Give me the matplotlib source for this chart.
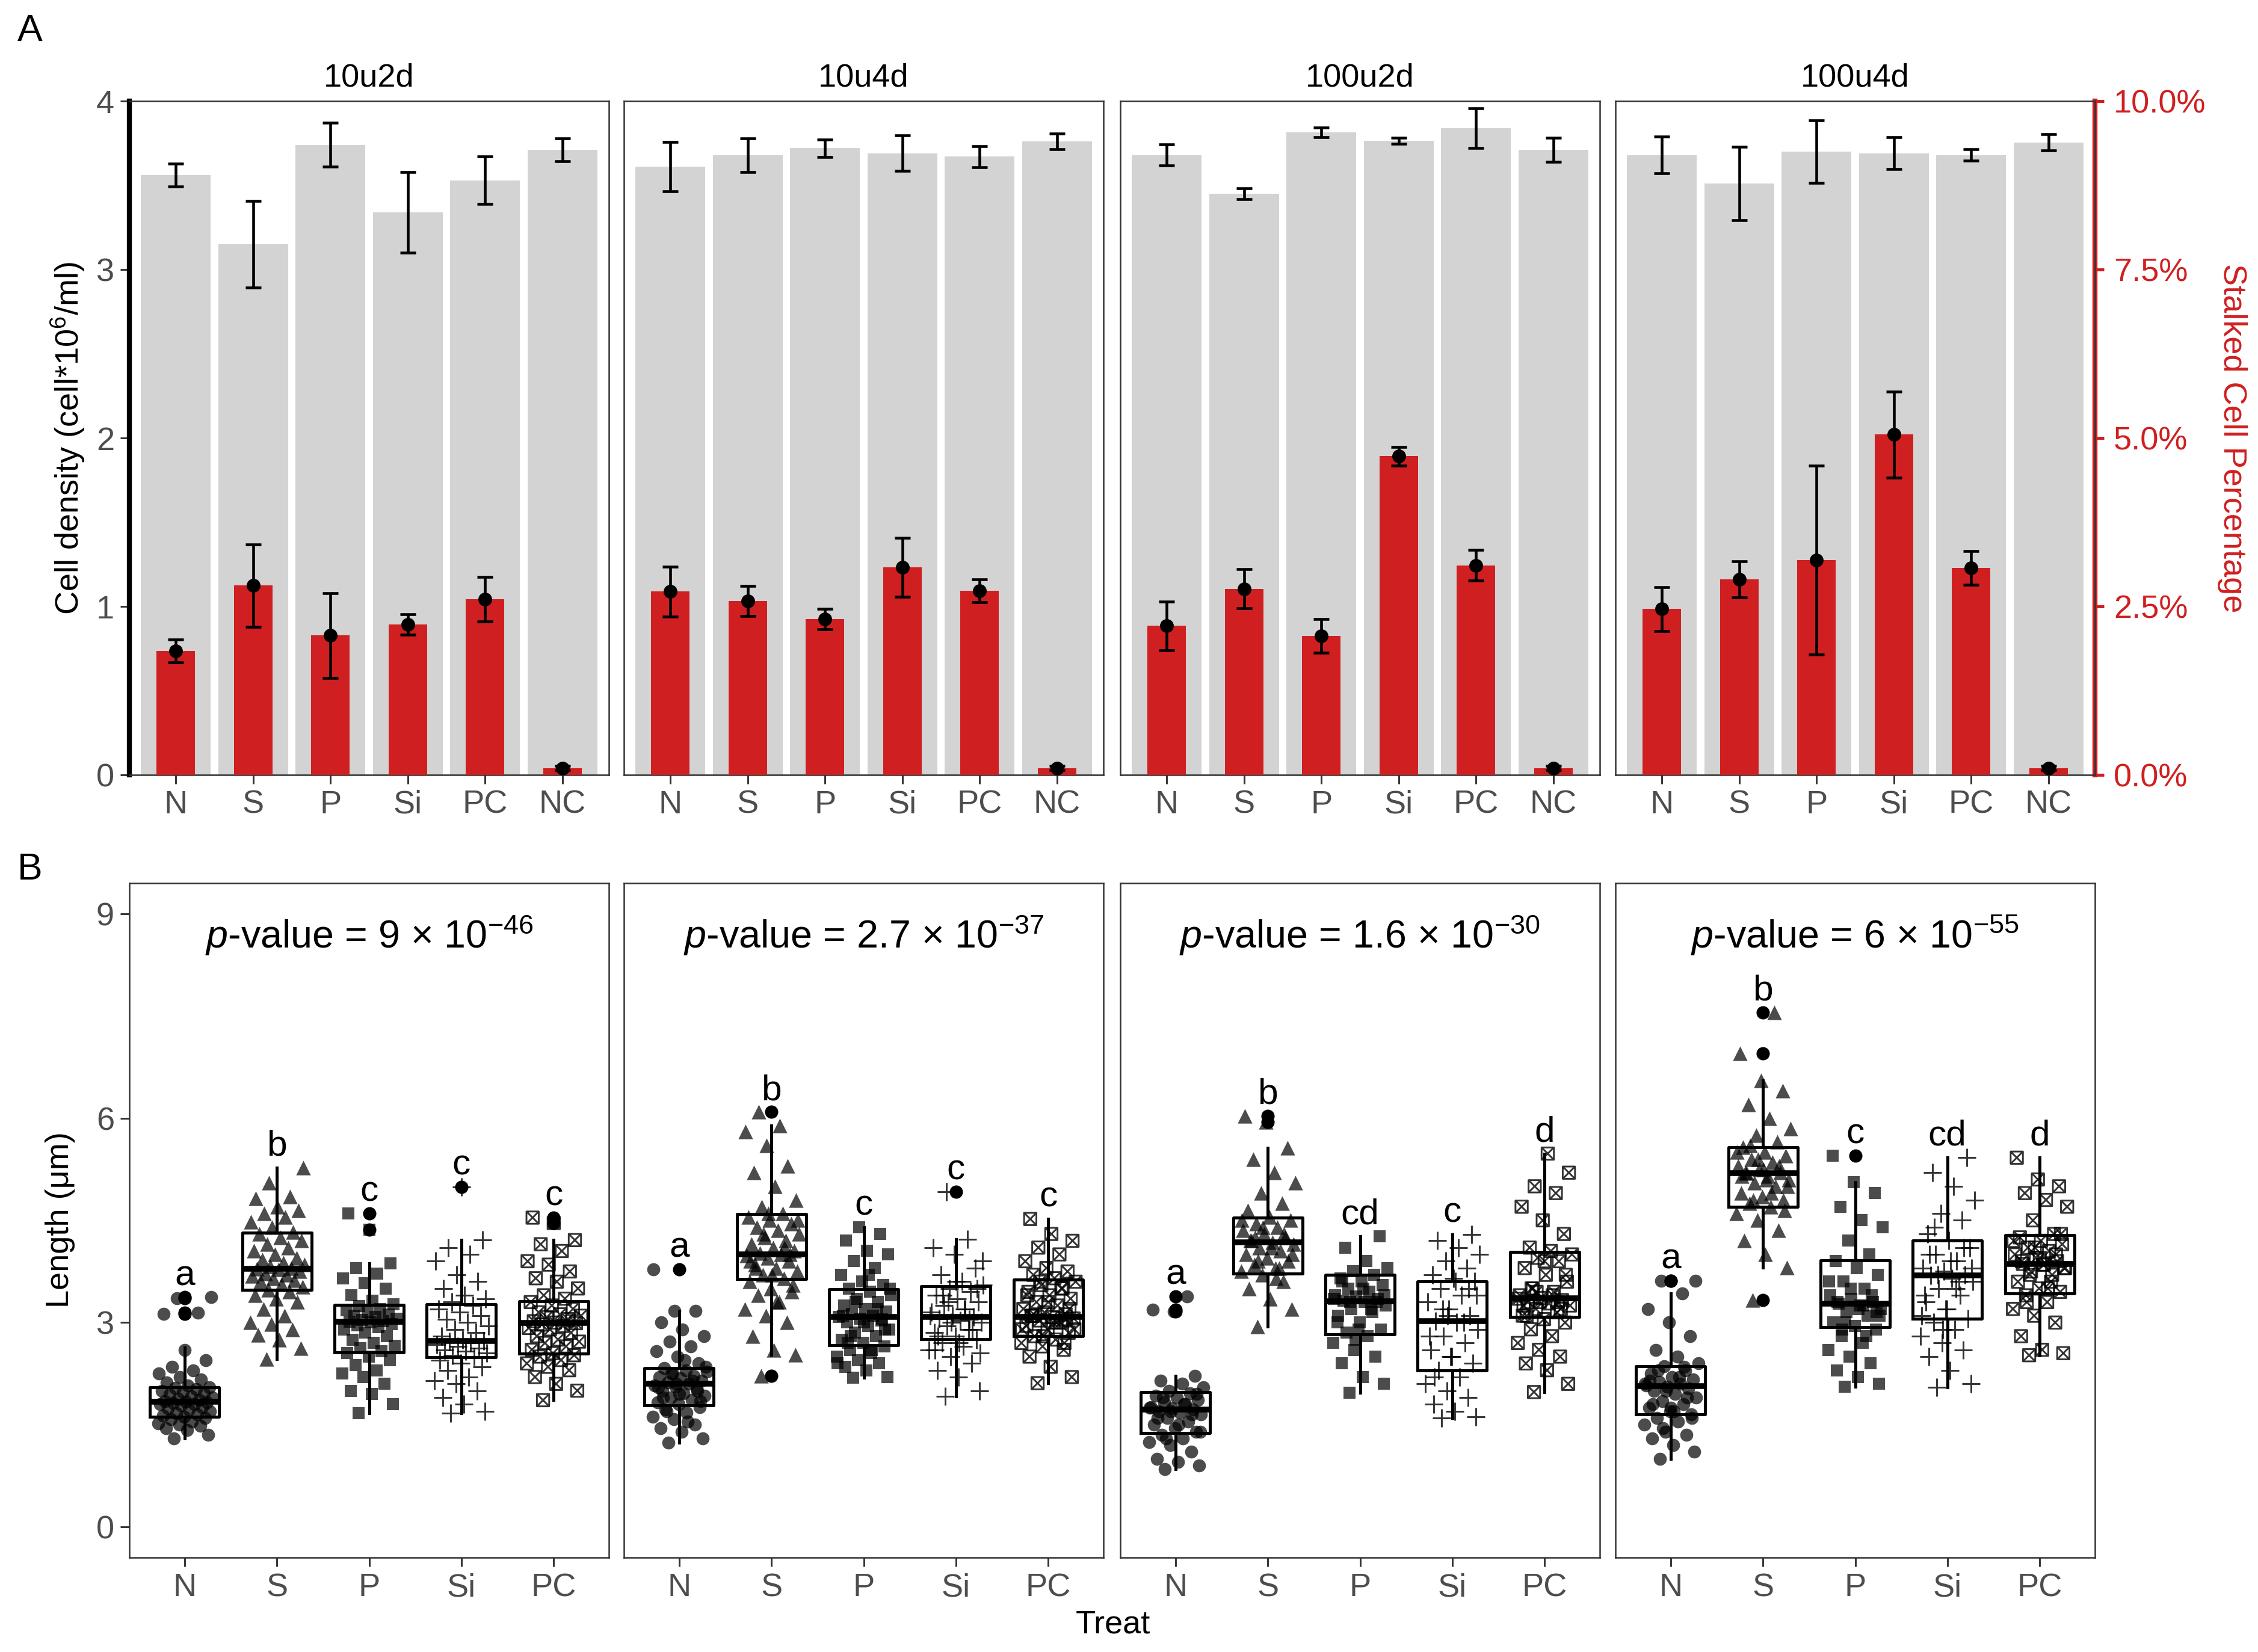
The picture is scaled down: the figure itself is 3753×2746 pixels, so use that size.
import numpy as np
import matplotlib.pyplot as plt
from matplotlib.path import Path

plt.rcParams['font.family'] = ['Liberation Sans', 'DejaVu Sans']
plt.rcParams['mathtext.fontset'] = 'custom'
plt.rcParams['mathtext.rm'] = 'Liberation Sans'
plt.rcParams['mathtext.it'] = 'Liberation Sans:italic'
plt.rcParams['mathtext.bf'] = 'Liberation Sans:bold'

W, H, DPI = 3753, 2746, 300
RED = "#D01F20"
GREY_BAR = "#D3D3D3"
TICK_GREY = "#4D4D4D"
FRAME = "#333333"

facets = ["10u2d", "10u4d", "100u2d", "100u4d"]

# ---- panel A: cell density (grey) and stalked cell percentage (red)
bar_treats = ["N", "S", "P", "Si", "PC", "NC"]
density_mean = {
    "10u2d":  [3.56, 3.15, 3.74, 3.34, 3.53, 3.71],
    "10u4d":  [3.61, 3.68, 3.72, 3.69, 3.67, 3.76],
    "100u2d": [3.68, 3.45, 3.815, 3.765, 3.84, 3.71],
    "100u4d": [3.68, 3.51, 3.70, 3.69, 3.68, 3.755],
}
density_err = {
    "10u2d":  [0.067, 0.257, 0.13, 0.24, 0.14, 0.068],
    "10u4d":  [0.147, 0.10, 0.053, 0.105, 0.062, 0.047],
    "100u2d": [0.063, 0.033, 0.028, 0.018, 0.118, 0.072],
    "100u4d": [0.109, 0.218, 0.184, 0.095, 0.034, 0.047],
}
stalked_pct = {
    "10u2d":  [1.84, 2.81, 2.07, 2.23, 2.61, 0.10],
    "10u4d":  [2.72, 2.58, 2.31, 3.08, 2.73, 0.10],
    "100u2d": [2.21, 2.76, 2.06, 4.73, 3.11, 0.10],
    "100u4d": [2.46, 2.90, 3.19, 5.05, 3.07, 0.10],
}
stalked_err = {
    "10u2d":  [0.17, 0.61, 0.63, 0.15, 0.33, 0.03],
    "10u4d":  [0.37, 0.22, 0.15, 0.44, 0.17, 0.03],
    "100u2d": [0.36, 0.29, 0.25, 0.14, 0.23, 0.03],
    "100u4d": [0.33, 0.27, 1.40, 0.64, 0.25, 0.03],
}
pct_ticks = [0, 2.5, 5, 7.5, 10]
PCT_MAX = 10.0
DENS_MAX = 4.0

# ---- panel B: cell length box plots
box_treats = ["N", "S", "P", "Si", "PC"]
p_mantissa = ["9", "2.7", "1.6", "6"]
p_exponent = ["-46", "-37", "-30", "-55"]
letters = {
    "10u2d":  ["a", "b", "c", "c", "c"],
    "10u4d":  ["a", "b", "c", "c", "c"],
    "100u2d": ["a", "b", "cd", "c", "d"],
    "100u4d": ["a", "b", "c", "cd", "d"],
}
box_q1 = {
    "10u2d":  [1.62, 3.48, 2.56, 2.49, 2.54],
    "10u4d":  [1.78, 3.64, 2.67, 2.76, 2.80],
    "100u2d": [1.38, 3.72, 2.83, 2.30, 3.08],
    "100u4d": [1.65, 4.70, 2.93, 3.06, 3.43],
}
box_med = {
    "10u2d":  [1.84, 3.79, 3.01, 2.73, 2.99],
    "10u4d":  [2.10, 4.00, 3.08, 3.08, 3.08],
    "100u2d": [1.72, 4.18, 3.31, 3.02, 3.36],
    "100u4d": [2.07, 5.19, 3.28, 3.69, 3.86],
}
box_q3 = {
    "10u2d":  [2.05, 4.32, 3.26, 3.27, 3.31],
    "10u4d":  [2.33, 4.59, 3.49, 3.53, 3.63],
    "100u2d": [1.98, 4.54, 3.70, 3.60, 4.04],
    "100u4d": [2.36, 5.57, 3.91, 4.20, 4.28],
}
box_lo = {
    "10u2d":  [1.30, 2.46, 1.67, 1.67, 1.86],
    "10u4d":  [1.24, 2.53, 2.19, 1.92, 2.11],
    "100u2d": [0.85, 2.94, 1.97, 1.60, 1.98],
    "100u4d": [1.00, 3.81, 2.06, 2.05, 2.52],
}
box_hi = {
    "10u2d":  [2.63, 5.27, 3.87, 4.21, 4.21],
    "10u4d":  [3.17, 5.89, 4.40, 4.22, 4.52],
    "100u2d": [2.22, 5.56, 4.27, 4.29, 5.48],
    "100u4d": [3.43, 6.55, 5.06, 5.42, 5.42],
}

lengths = {
    "10u2d": {
        "N": [1.30, 1.35, 1.42, 1.45, 1.48, 1.50, 1.52, 1.55, 1.58, 1.60, 1.62, 1.63, 1.65, 1.67,
              1.70, 1.72, 1.74, 1.76, 1.78, 1.80, 1.80, 1.82, 1.83, 1.84, 1.85, 1.86, 1.88, 1.90,
              1.92, 1.94, 1.96, 1.98, 2.00, 2.02, 2.04, 2.05, 2.08, 2.12, 2.16, 2.20, 2.25, 2.30,
              2.35, 2.45, 2.60, 3.13, 3.14, 3.36, 3.37],
        "S": [2.46, 2.62, 2.75, 2.82, 2.90, 2.98, 3.00, 3.10, 3.20, 3.30, 3.35, 3.40, 3.45, 3.48,
              3.52, 3.56, 3.60, 3.62, 3.65, 3.68, 3.70, 3.72, 3.75, 3.78, 3.79, 3.80, 3.82, 3.85,
              3.88, 3.92, 3.95, 4.00, 4.05, 4.10, 4.15, 4.20, 4.25, 4.30, 4.33, 4.40, 4.48, 4.55,
              4.60, 4.65, 4.70, 4.82, 4.85, 5.05, 5.27],
        "P": [1.67, 1.80, 1.95, 2.00, 2.10, 2.20, 2.25, 2.30, 2.38, 2.45, 2.50, 2.55, 2.58, 2.62,
              2.66, 2.70, 2.75, 2.80, 2.85, 2.90, 2.93, 2.96, 2.98, 3.00, 3.01, 3.02, 3.04, 3.06,
              3.08, 3.10, 3.12, 3.15, 3.18, 3.20, 3.24, 3.27, 3.32, 3.40, 3.50, 3.58, 3.65, 3.72,
              3.80, 3.87, 4.36, 4.60],
        "Si": [1.67, 1.70, 1.80, 1.90, 2.00, 2.10, 2.15, 2.20, 2.30, 2.35, 2.40, 2.45, 2.50, 2.52,
               2.55, 2.58, 2.60, 2.62, 2.65, 2.68, 2.70, 2.72, 2.73, 2.75, 2.80, 2.85, 2.90, 2.95,
               3.00, 3.05, 3.10, 3.15, 3.20, 3.25, 3.30, 3.35, 3.40, 3.50, 3.60, 3.70, 3.90, 4.00,
               4.10, 4.21, 4.99],
        "PC": [1.86, 2.00, 2.10, 2.20, 2.30, 2.35, 2.40, 2.45, 2.50, 2.52, 2.55, 2.60, 2.65, 2.70,
               2.72, 2.75, 2.80, 2.85, 2.90, 2.92, 2.95, 2.97, 2.99, 3.00, 3.02, 3.05, 3.08, 3.10,
               3.12, 3.15, 3.20, 3.25, 3.30, 3.35, 3.40, 3.50, 3.60, 3.65, 3.75, 3.85, 3.90, 4.05,
               4.15, 4.21, 4.46, 4.54],
    },
    "10u4d": {
        "N": [1.24, 1.30, 1.40, 1.45, 1.50, 1.58, 1.62, 1.68, 1.72, 1.76, 1.80, 1.83, 1.86, 1.90,
              1.93, 1.96, 2.00, 2.03, 2.06, 2.08, 2.10, 2.12, 2.15, 2.18, 2.20, 2.22, 2.25, 2.28,
              2.30, 2.33, 2.40, 2.50, 2.58, 2.65, 2.72, 2.80, 2.90, 3.00, 3.17, 3.17, 3.78,
              1.55, 1.70, 1.85, 1.95, 2.05, 2.15, 2.25, 2.35, 2.45, 1.90, 2.00, 2.10],
        "S": [2.22, 2.53, 2.60, 2.80, 3.00, 3.10, 3.20, 3.30, 3.40, 3.45, 3.50, 3.60, 3.65, 3.70,
              3.75, 3.80, 3.85, 3.90, 3.95, 3.98, 4.00, 4.02, 4.05, 4.10, 4.15, 4.20, 4.25, 4.30,
              4.35, 4.40, 4.45, 4.50, 4.55, 4.60, 4.70, 4.80, 5.00, 5.20, 5.30, 5.60, 5.80, 5.89,
              6.09, 3.55, 3.70, 3.90, 4.10, 4.30, 4.50, 3.30, 3.80, 4.00, 4.60],
        "P": [2.19, 2.20, 2.30, 2.35, 2.40, 2.45, 2.50, 2.55, 2.60, 2.65, 2.70, 2.75, 2.80, 2.85,
              2.90, 2.95, 3.00, 3.03, 3.06, 3.08, 3.10, 3.13, 3.16, 3.20, 3.25, 3.30, 3.35, 3.40,
              3.45, 3.50, 3.55, 3.60, 3.70, 3.80, 3.90, 4.00, 4.05, 4.20, 4.30, 4.40,
              2.40, 2.60, 2.80, 2.90, 3.00, 3.10, 3.20, 3.30, 3.50, 3.70, 2.70, 3.05],
        "Si": [1.92, 2.00, 2.20, 2.30, 2.40, 2.50, 2.60, 2.65, 2.70, 2.75, 2.80, 2.85, 2.90, 2.95,
               3.00, 3.03, 3.06, 3.08, 3.10, 3.15, 3.20, 3.25, 3.30, 3.35, 3.40, 3.45, 3.50, 3.55,
               3.60, 3.70, 3.80, 4.00, 4.10, 4.22, 4.92,
               2.55, 2.70, 2.80, 2.90, 3.00, 3.10, 3.20, 3.40, 3.50, 3.60, 2.60, 3.05, 3.30, 3.90],
        "PC": [2.11, 2.20, 2.35, 2.50, 2.60, 2.65, 2.70, 2.75, 2.80, 2.85, 2.90, 2.95, 3.00, 3.03,
               3.06, 3.08, 3.10, 3.12, 3.15, 3.20, 3.25, 3.30, 3.35, 3.40, 3.45, 3.50, 3.55, 3.60,
               3.65, 3.70, 3.75, 3.80, 3.90, 4.00, 4.10, 4.20, 4.30, 4.52,
               2.70, 2.80, 2.90, 3.00, 3.10, 3.20, 3.30, 3.40, 3.50, 3.60, 2.90, 3.00, 3.10, 3.05],
    },
    "100u2d": {
        "N": [0.85, 0.90, 0.95, 1.00, 1.10, 1.20, 1.25, 1.30, 1.35, 1.40, 1.45, 1.50, 1.55, 1.60,
              1.65, 1.68, 1.70, 1.72, 1.74, 1.76, 1.80, 1.83, 1.86, 1.90, 1.93, 1.96, 2.00, 2.05,
              2.10, 2.15, 2.22, 3.16, 3.19, 3.38,
              1.30, 1.40, 1.50, 1.60, 1.65, 1.70, 1.75, 1.80, 1.90, 1.95],
        "S": [2.94, 3.20, 3.35, 3.50, 3.60, 3.70, 3.75, 3.80, 3.85, 3.90, 3.95, 4.00, 4.05, 4.10,
              4.15, 4.18, 4.20, 4.25, 4.30, 4.35, 4.40, 4.45, 4.50, 4.55, 4.65, 4.75, 4.90, 5.05,
              5.20, 5.40, 5.56, 5.94, 6.03,
              3.80, 3.90, 4.00, 4.10, 4.20, 4.30, 4.40, 4.50, 3.65, 4.25],
        "P": [1.97, 2.10, 2.20, 2.40, 2.50, 2.60, 2.70, 2.80, 2.85, 2.90, 3.00, 3.10, 3.15, 3.20,
              3.25, 3.30, 3.32, 3.35, 3.38, 3.40, 3.45, 3.50, 3.55, 3.60, 3.65, 3.70, 3.75, 3.80,
              3.90, 4.10, 4.27, 2.90, 3.00, 3.20, 3.30, 3.40, 3.50, 3.60, 3.30, 2.75, 3.35],
        "Si": [1.60, 1.62, 1.70, 1.80, 1.90, 2.00, 2.10, 2.20, 2.30, 2.40, 2.50, 2.60, 2.70, 2.80,
               2.90, 3.00, 3.02, 3.10, 3.20, 3.30, 3.40, 3.50, 3.60, 3.65, 3.70, 3.80, 3.90, 4.00,
               4.10, 4.20, 4.29, 2.50, 2.80, 3.00, 3.20, 3.40, 3.60, 2.20, 3.50, 3.10],
        "PC": [1.98, 2.10, 2.30, 2.40, 2.50, 2.60, 2.70, 2.80, 2.90, 3.00, 3.05, 3.10, 3.15, 3.20,
               3.25, 3.28, 3.30, 3.33, 3.36, 3.40, 3.45, 3.50, 3.60, 3.70, 3.80, 3.90, 3.95, 4.00,
               4.05, 4.10, 4.30, 4.50, 4.70, 4.90, 5.00, 5.20, 5.48,
               3.10, 3.20, 3.30, 3.35, 3.40, 3.50, 3.70, 3.90, 3.25, 3.30, 3.45],
    },
    "100u4d": {
        "N": [1.00, 1.10, 1.20, 1.30, 1.35, 1.40, 1.50, 1.55, 1.60, 1.65, 1.70, 1.75, 1.80, 1.85,
              1.90, 1.95, 2.00, 2.03, 2.06, 2.08, 2.10, 2.13, 2.16, 2.20, 2.25, 2.30, 2.36, 2.40,
              2.50, 2.60, 2.80, 3.00, 3.20, 3.43, 3.61, 3.61,
              1.70, 1.80, 1.90, 2.00, 2.10, 2.20, 2.30, 1.60, 1.75, 2.15, 2.35, 1.45],
        "S": [3.33, 3.81, 4.00, 4.20, 4.35, 4.50, 4.60, 4.70, 4.75, 4.80, 4.85, 4.90, 5.00, 5.05,
              5.10, 5.15, 5.19, 5.20, 5.25, 5.30, 5.35, 5.40, 5.45, 5.50, 5.57, 5.65, 5.75, 5.85,
              6.00, 6.20, 6.40, 6.55, 6.95, 7.55,
              4.80, 5.00, 5.10, 5.20, 5.30, 5.40, 5.50, 4.90, 5.60, 4.65, 5.25, 5.15],
        "P": [2.06, 2.10, 2.20, 2.30, 2.40, 2.50, 2.60, 2.70, 2.80, 2.90, 2.95, 3.00, 3.10, 3.15,
              3.20, 3.25, 3.28, 3.30, 3.35, 3.40, 3.50, 3.60, 3.70, 3.80, 3.90, 4.00, 4.20, 4.40,
              4.50, 4.70, 4.90, 5.06, 5.45,
              2.80, 3.00, 3.10, 3.20, 3.30, 3.40, 3.50, 3.60, 3.25, 2.90, 3.15],
        "Si": [2.05, 2.10, 2.30, 2.50, 2.60, 2.70, 2.80, 2.90, 3.00, 3.06, 3.20, 3.30, 3.40, 3.50,
               3.60, 3.65, 3.69, 3.70, 3.75, 3.80, 3.90, 4.00, 4.10, 4.20, 4.30, 4.50, 4.60, 4.80,
               5.00, 5.20, 5.42,
               3.20, 3.40, 3.60, 3.70, 3.80, 3.90, 4.00, 4.10, 2.90, 3.10, 3.50, 4.40],
        "PC": [2.52, 2.55, 2.60, 2.80, 3.00, 3.10, 3.20, 3.30, 3.40, 3.45, 3.50, 3.60, 3.70, 3.75,
               3.80, 3.85, 3.86, 3.90, 3.95, 4.00, 4.05, 4.10, 4.15, 4.20, 4.25, 4.30, 4.50, 4.70,
               4.80, 4.90, 5.00, 5.10, 5.42,
               3.60, 3.70, 3.80, 3.85, 3.90, 4.00, 4.10, 4.20, 3.50, 3.30, 4.30, 3.95],
    },
}

# square with an X inside (ggplot shape 7)
boxx = Path([(-1, -1), (1, -1), (1, 1), (-1, 1), (-1, -1), (-1, -1), (1, 1), (-1, 1), (1, -1)],
            [Path.MOVETO, Path.LINETO, Path.LINETO, Path.LINETO, Path.CLOSEPOLY,
             Path.MOVETO, Path.LINETO, Path.MOVETO, Path.LINETO])
point_style = {
    "N":  dict(marker="o", s=27, c="black", alpha=0.7, linewidths=0),
    "S":  dict(marker="^", s=34, c="black", alpha=0.7, linewidths=0),
    "P":  dict(marker="s", s=25, c="black", alpha=0.7, linewidths=0),
    "Si": dict(marker="+", s=55, c="black", alpha=0.8, linewidths=0.7),
    "PC": dict(marker=boxx, s=24, facecolors="none", edgecolors="black", alpha=0.8, linewidths=0.7),
}

fig = plt.figure(figsize=(W / DPI, H / DPI), dpi=DPI)


def px_axes(x0, y0, w, h):
    return fig.add_axes([x0 / W, 1 - (y0 + h) / H, w / W, h / H])


lefts = [215, 1037, 1862, 2685]
pw = 797


def style_frame(ax):
    for sp in ax.spines.values():
        sp.set_color(FRAME)
        sp.set_linewidth(0.6)
    ax.tick_params(axis="both", length=3.5, width=0.7, color=FRAME,
                   labelsize=13, labelcolor=TICK_GREY, pad=2.5)


# ---------------- panel A
xb = np.arange(1, len(bar_treats) + 1)
for i, f in enumerate(facets):
    ax = px_axes(lefts[i], 168, pw, 1120)
    style_frame(ax)
    dm = np.array(density_mean[f])
    de = np.array(density_err[f])
    sp_ = np.array(stalked_pct[f]) * DENS_MAX / PCT_MAX
    se = np.array(stalked_err[f]) * DENS_MAX / PCT_MAX
    ax.bar(xb, dm, width=0.9, color=GREY_BAR, zorder=1)
    ax.errorbar(xb, dm, yerr=de, fmt="none", ecolor="black", elinewidth=1.1,
                capsize=3.1, capthick=1.1, zorder=2)
    ax.bar(xb, sp_, width=0.5, color=RED, zorder=3)
    ax.errorbar(xb, sp_, yerr=se, fmt="none", ecolor="black", elinewidth=1.1,
                capsize=3.1, capthick=1.1, zorder=4)
    ax.plot(xb, sp_, "o", color="black", ms=4.5, zorder=5)
    ax.set_xlim(0.4, len(bar_treats) + 0.6)
    ax.set_ylim(0, DENS_MAX)
    ax.set_xticks(xb)
    ax.set_xticklabels(bar_treats)
    ax.set_yticks([0, 1, 2, 3, 4])
    ax.set_title(f, fontsize=13, pad=6)
    if i == 0:
        ax.spines["left"].set_color("black")
        ax.spines["left"].set_linewidth(2.0)
    else:
        ax.tick_params(axis="y", left=False, labelleft=False)
    if i == len(facets) - 1:
        sec = ax.secondary_yaxis("right", functions=(lambda d: d * PCT_MAX / DENS_MAX,
                                                     lambda p: p * DENS_MAX / PCT_MAX))
        sec.set_yticks(pct_ticks)
        sec.set_yticklabels([f"{t:.1f}%" for t in pct_ticks])
        sec.spines["right"].set_color(RED)
        sec.spines["right"].set_linewidth(2.0)
        sec.tick_params(axis="y", length=3.5, width=1.2, color=RED, labelcolor=RED,
                        labelsize=13, pad=4)

# ---------------- panel B
xp = np.arange(1, len(box_treats) + 1)
for i, f in enumerate(facets):
    ax = px_axes(lefts[i], 1468, pw, 1121)
    style_frame(ax)
    stats = []
    for j, t in enumerate(box_treats):
        vals = np.array(lengths[f][t])
        n = len(vals)
        jit = ((np.arange(n) * 0.6180339887 + 0.31) % 1.0 - 0.5) * 0.6
        ax.scatter(xp[j] + jit, vals, zorder=2, **point_style[t])
        lo, hi = box_lo[f][j], box_hi[f][j]
        fl = vals[(vals < lo - 1e-9) | (vals > hi + 1e-9)]
        stats.append(dict(q1=box_q1[f][j], med=box_med[f][j], q3=box_q3[f][j],
                          whislo=lo, whishi=hi, fliers=fl))
        ax.text(xp[j], vals.max() + 0.18, letters[f][j], ha="center", va="baseline",
                fontsize=14.5, zorder=5)
    ax.bxp(stats, positions=xp, widths=0.75, showcaps=False, showfliers=True,
           boxprops=dict(color="black", linewidth=1.2),
           whiskerprops=dict(color="black", linewidth=1.2),
           medianprops=dict(color="black", linewidth=2.3),
           flierprops=dict(marker="o", markerfacecolor="black", markeredgecolor="black",
                           markersize=4.3, linestyle="none"),
           zorder=3)
    ax.text(3, 8.5, r"$\mathit{p}$-value = " + p_mantissa[i] + r" × $10^{" + p_exponent[i] + "}$",
            ha="center", va="baseline", fontsize=15.5)
    ax.set_xlim(0.4, len(box_treats) + 0.6)
    ax.set_ylim(-0.45, 9.45)
    ax.set_xticks(xp)
    ax.set_xticklabels(box_treats)
    ax.set_yticks([0, 3, 6, 9])
    if i > 0:
        ax.tick_params(axis="y", left=False, labelleft=False)

# ---------------- labels
fig.text(113 / W, 1 - 728 / H, r"Cell density (cell*10$^{6}$/ml)", rotation=90,
         ha="center", va="center", fontsize=13)
fig.text(3710 / W, 1 - 728 / H, "Stalked Cell Percentage", rotation=270,
         ha="center", va="center", fontsize=13, color=RED)
fig.text(100 / W, 1 - 2028 / H, "Length (μm)", rotation=90,
         ha="center", va="center", fontsize=13)
fig.text(1850 / W, 1 - 2700 / H, "Treat", ha="center", va="center", fontsize=13)
fig.text(50 / W, 1 - 52 / H, "A", ha="center", va="center", fontsize=15)
fig.text(50 / W, 1 - 1445 / H, "B", ha="center", va="center", fontsize=15)

fig.savefig("out.png", dpi=DPI)
